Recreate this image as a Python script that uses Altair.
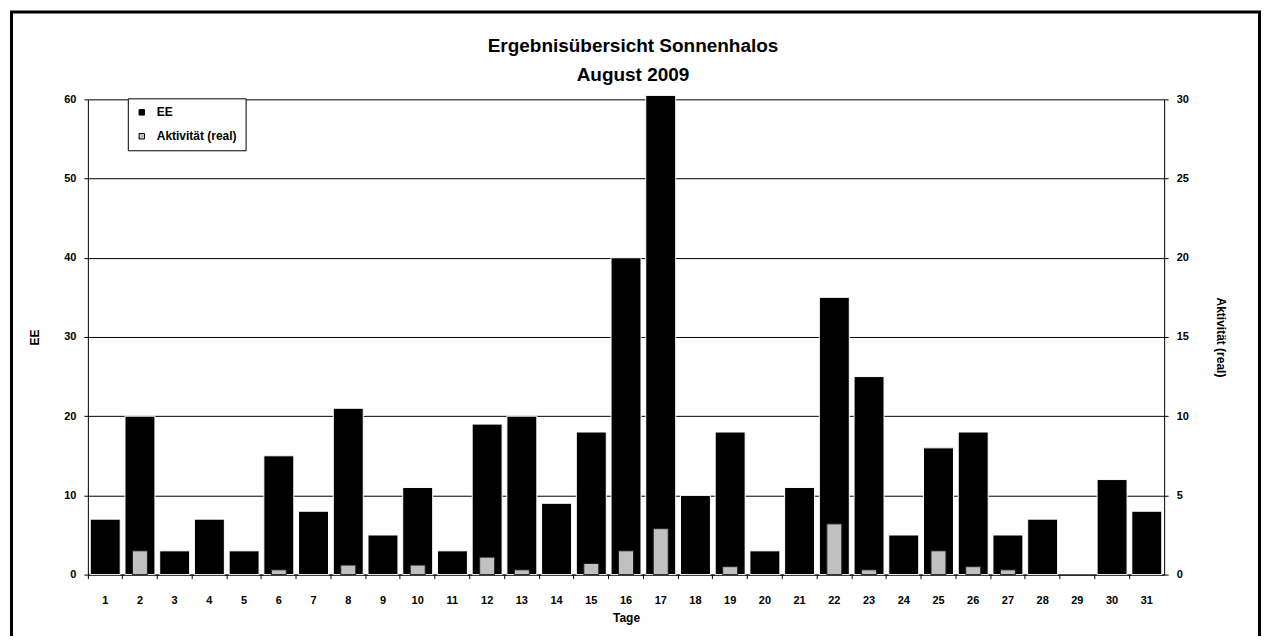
import altair as alt
import pandas as pd

# ---- data ----
days = list(range(1, 32))
ee = [7, 20, 3, 7, 3, 15, 8, 21, 5, 11, 3, 19, 20, 9, 18, 40, 60.5, 10, 18, 3,
      11, 35, 25, 5, 16, 18, 5, 7, 0, 12, 8]
aktiv = [0, 1.5, 0, 0, 0, 0.3, 0, 0.6, 0, 0.6, 0, 1.1, 0.3, 0, 0.7, 1.5, 2.9,
         0, 0.5, 0, 0, 3.2, 0.3, 0, 1.5, 0.5, 0.3, 0, 0, 0, 0]
series = ["EE", "Aktivität (real)"]
colors = ["#000000", "#C0C0C0"]
ee_ticks = [0, 10, 20, 30, 40, 50, 60]
akt_ticks = [0, 5, 10, 15, 20, 25, 30]
title_lines = ["Ergebnisübersicht Sonnenhalos", "August 2009"]

df_ee = pd.DataFrame({"Tag": days, "Wert": ee, "Serie": series[0]})
df_akt = pd.DataFrame({"Tag": days, "Wert": aktiv, "Serie": series[1]})

FONT = "Liberation Sans"
W, H = 1078, 476
TICK_FS = 11
TITLE_FS = 12

color = alt.Color(
    "Serie:N",
    scale=alt.Scale(domain=series, range=colors),
    legend=alt.Legend(
        title=None, orient="none", legendX=40, legendY=-1,
        direction="vertical", symbolType="square", symbolSize=30,
        symbolStrokeColor="black", symbolStrokeWidth=1,
        labelFont=FONT, labelFontSize=12, labelFontWeight="bold",
        labelColor="black", rowPadding=12, padding=8, labelOffset=9,
        strokeColor="black", fillColor="white",
    ),
)

xenc = alt.X(
    "Tag:O",
    scale=alt.Scale(domain=days, paddingInner=0, paddingOuter=0),
    axis=alt.Axis(
        title="Tage", labelAngle=0, bandPosition=0, tickSize=4,
        labelPadding=16, titlePadding=7, domainColor="black",
        tickColor="black", labelFont=FONT, labelFontSize=TICK_FS,
        labelFontWeight="bold", titleFont=FONT, titleFontSize=TITLE_FS,
        titleFontWeight="bold", labelColor="black", titleColor="black",
    ),
)

bars_ee = alt.Chart(df_ee).transform_filter("datum.Wert > 0").mark_bar(
    size=30, stroke="white", strokeWidth=1, clip=False
).encode(
    x=xenc,
    y=alt.Y(
        "Wert:Q",
        scale=alt.Scale(domain=[0, 60], nice=False),
        axis=alt.Axis(
            title="EE", orient="left", values=ee_ticks, grid=True,
            gridColor="black", gridOpacity=1, gridWidth=1, tickSize=4,
            labelPadding=8, titlePadding=22, domainColor="black",
            tickColor="black", labelFont=FONT, labelFontSize=TICK_FS,
            labelFontWeight="bold", titleFont=FONT, titleFontSize=TITLE_FS,
            titleFontWeight="bold", labelColor="black", titleColor="black",
        ),
    ),
    color=color,
)

bars_akt = alt.Chart(df_akt).transform_filter("datum.Wert > 0").mark_bar(
    size=15, stroke="#202020", strokeWidth=1
).encode(
    x=xenc,
    y=alt.Y(
        "Wert:Q",
        scale=alt.Scale(domain=[0, 30], nice=False),
        axis=alt.Axis(
            title="Aktivität (real)", orient="right", values=akt_ticks,
            grid=False, tickSize=4, labelPadding=8, titlePadding=25,
            domainColor="black", tickColor="black", labelFont=FONT,
            labelFontSize=TICK_FS, labelFontWeight="bold", titleFont=FONT,
            titleFontSize=TITLE_FS, titleFontWeight="bold",
            labelColor="black", titleColor="black",
        ),
    ),
    color=color,
)

one = alt.Data(values=[{"k": 1}])

frame = alt.Chart(one).mark_rect(
    fill=None, stroke="black", strokeWidth=3, clip=False
).encode(
    x=alt.value(-76.5), x2=alt.value(1173.5),
    y=alt.value(-87.5), y2=alt.value(700),
)

title1 = alt.Chart(one).mark_text(
    font=FONT, fontSize=19, fontWeight="bold", color="black",
    align="center", baseline="alphabetic",
).encode(x=alt.value(546), y=alt.value(-47), text=alt.value(title_lines[0]))

title2 = alt.Chart(one).mark_text(
    font=FONT, fontSize=19, fontWeight="bold", color="black",
    align="center", baseline="alphabetic",
).encode(x=alt.value(546), y=alt.value(-18), text=alt.value(title_lines[1]))

chart = alt.layer(bars_ee, bars_akt, frame, title1, title2).resolve_scale(
    y="independent"
).properties(
    width=W, height=H,
    autosize=alt.AutoSizeParams(type="none"),
    padding={"left": 80, "top": 91, "right": 98, "bottom": 61},
    background="white",
).configure_view(stroke=None)

chart.save("out.html", embed_options={"renderer": "svg", "actions": False})
